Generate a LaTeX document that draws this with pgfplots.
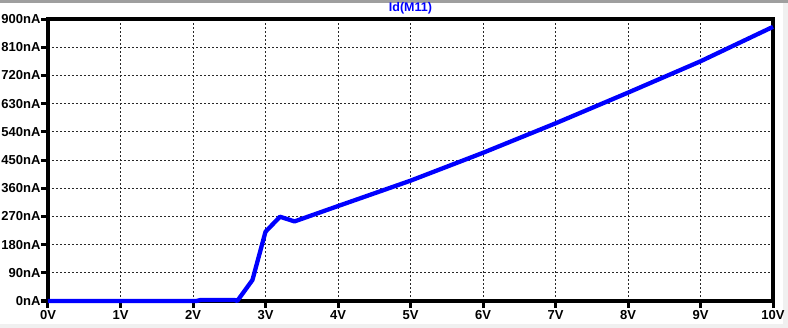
\documentclass[border=0pt]{standalone}
\usepackage{pgfplots}
\pgfplotsset{compat=1.18}
\usepackage{fontspec}
\setmainfont{Liberation Sans}
\definecolor{ltblue}{RGB}{0,0,255}
\definecolor{ltgrid}{RGB}{40,40,40}
\begin{document}
\begin{tikzpicture}
\useasboundingbox (0,0) rectangle (788bp,328bp);
\fill[white] (0,0) rectangle (788bp,328bp);
\fill[gray!75] (0,325bp) rectangle (788bp,328bp);
\fill[gray!12] (0,0) rectangle (788bp,4bp);
\fill[gray!12] (783bp,0) rectangle (788bp,325bp);
\begin{axis}[
  at={(48bp,27bp)}, anchor=south west,
  scale only axis, width=725bp, height=282bp,
  xmin=0, xmax=10, ymin=0, ymax=900,
  xtick={0,1,...,10}, ytick={0,90,...,900},
  xticklabels={0V,1V,2V,3V,4V,5V,6V,7V,8V,9V,10V},
  yticklabels={0nA,90nA,180nA,270nA,360nA,450nA,540nA,630nA,720nA,810nA,900nA},
  tick label style={font=\fontsize{13bp}{15bp}\selectfont\bfseries, black},
  xticklabel style={yshift=1bp},
  yticklabel style={xshift=3bp},
  tick align=outside, tick pos=left,
  major tick length=7bp,
  every tick/.style={black, line width=3bp},
  axis line style={black, line width=4bp},
  grid=major,
  major grid style={ltgrid, line width=0.9bp, dash pattern=on 2bp off 2bp},
  title={Id(M11)},
  title style={font=\fontsize{12.5bp}{14bp}\selectfont\bfseries, text=ltblue, yshift=-5bp},
  clip=false,
]
\addplot[ltblue, line width=4.3bp, line join=round] coordinates {
(0,0) (2.05,0) (2.1,3) (2.58,3) (2.61,0)
(2.82,67) (3.0,221) (3.2,269) (3.4,254) (4.0,303)
(5,384) (6,473) (7,567) (8,665) (9,765) (10,875)
};
\end{axis}
\end{tikzpicture}
\end{document}
